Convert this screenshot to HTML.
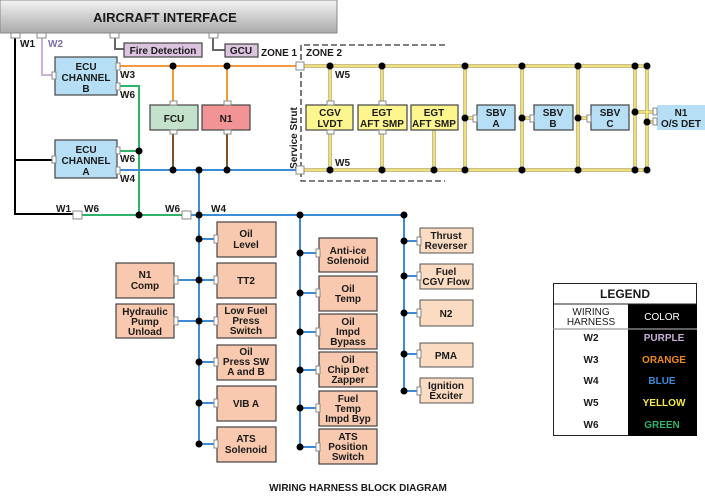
<!DOCTYPE html>
<html><head><meta charset="utf-8"><style>
html,body{margin:0;padding:0;background:#fff;}
svg{display:block;font-family:"Liberation Sans",Arial,sans-serif;font-weight:bold;}
text{font-size:10px;fill:#1a1a1a;}
.bx{stroke:#444;stroke-width:1.2;}
.c{fill:#fff;stroke:#888;stroke-width:1;}
</style></head><body>
<svg width="705" height="496" viewBox="0 0 705 496" xmlns="http://www.w3.org/2000/svg">
<defs><linearGradient id="g" x1="0" y1="0" x2="0" y2="1"><stop offset="0" stop-color="#f4f4f4"/><stop offset="1" stop-color="#a9a9a9"/></linearGradient></defs>
<!-- aircraft interface -->
<rect x="0" y="0" width="337" height="33" fill="url(#g)" stroke="#888"/>
<text x="165" y="22" text-anchor="middle" style="font-size:13px">AIRCRAFT INTERFACE</text>
<!-- W1 black -->
<polyline points="15,35 15,214 75,214" fill="none" stroke="#000" stroke-width="2"/>
<line x1="15" y1="160" x2="53" y2="160" stroke="#000" stroke-width="2"/>
<!-- W2 purple -->
<polyline points="42,35 42,75 53,75" fill="none" stroke="#cbb3d8" stroke-width="2"/>
<!-- fire, gcu -->
<polyline points="115,35 115,49 124,49" fill="none" stroke="#666" stroke-width="2"/>
<polyline points="213,35 213,50 225,50" fill="none" stroke="#666" stroke-width="2"/>
<rect x="124" y="43" width="78" height="14" fill="#dcc3e0" class="bx"/>
<text x="163" y="54" text-anchor="middle">Fire Detection</text>
<rect x="225" y="44" width="33" height="13" fill="#dcc3e0" class="bx"/>
<text x="241" y="54" text-anchor="middle">GCU</text>
<text x="261" y="56">ZONE 1</text>
<text x="306" y="56">ZONE 2</text>
<rect x="11" y="33" width="9" height="5" class="c"/><rect x="37" y="33" width="9" height="5" class="c"/><rect x="110" y="33" width="9" height="5" class="c"/><rect x="209" y="33" width="9" height="5" class="c"/>
<text x="20" y="47">W1</text><text x="48" y="47" style="fill:#7b6fb0">W2</text>
<!-- dashed zone -->
<polyline points="445,45 301,45 301,181 445,181" fill="none" stroke="#333" stroke-width="1.3" stroke-dasharray="6,3"/>
<text transform="translate(297,138) rotate(-90)" text-anchor="middle">Service Strut</text>
<!-- orange -->
<line x1="118" y1="66" x2="300" y2="66" stroke="#f39a3c" stroke-width="2"/>
<line x1="173" y1="66" x2="173" y2="105" stroke="#f39a3c" stroke-width="2"/>
<line x1="227" y1="66" x2="227" y2="105" stroke="#f39a3c" stroke-width="2"/>
<!-- brown -->
<line x1="173" y1="130" x2="173" y2="170" stroke="#7a5230" stroke-width="2"/>
<line x1="227" y1="130" x2="227" y2="170" stroke="#7a5230" stroke-width="2"/>
<!-- green -->
<polyline points="118,86 139,86 139,215" fill="none" stroke="#2fb36a" stroke-width="2"/>
<line x1="118" y1="151" x2="139" y2="151" stroke="#2fb36a" stroke-width="2"/>
<line x1="78" y1="215" x2="190" y2="215" stroke="#2fb36a" stroke-width="2"/>
<!-- blue -->
<g stroke="#3d8ad6" stroke-width="2" fill="none">
<line x1="118" y1="170" x2="300" y2="170"/>
<line x1="199" y1="170" x2="199" y2="444"/>
<line x1="190" y1="215" x2="404" y2="215"/>
<line x1="300" y1="215" x2="300" y2="447"/>
<line x1="404" y1="215" x2="404" y2="391"/>
<line x1="199" y1="239" x2="218" y2="239"/><line x1="176" y1="280" x2="218" y2="280"/><line x1="176" y1="321" x2="218" y2="321"/><line x1="199" y1="362" x2="218" y2="362"/><line x1="199" y1="403" x2="218" y2="403"/><line x1="199" y1="444" x2="218" y2="444"/>
<line x1="300" y1="253" x2="319" y2="253"/><line x1="300" y1="293" x2="319" y2="293"/><line x1="300" y1="332" x2="319" y2="332"/><line x1="300" y1="370" x2="319" y2="370"/><line x1="300" y1="408" x2="319" y2="408"/><line x1="300" y1="447" x2="319" y2="447"/>
<line x1="404" y1="241" x2="420" y2="241"/><line x1="404" y1="276" x2="420" y2="276"/><line x1="404" y1="313" x2="420" y2="313"/><line x1="404" y1="354" x2="420" y2="354"/><line x1="404" y1="391" x2="420" y2="391"/>
</g>
<!-- yellow -->
<g stroke="#b8a968" stroke-width="3.5" fill="none">
<line x1="300" y1="66" x2="650" y2="66"/><line x1="300" y1="170" x2="650" y2="170"/>
<line x1="330" y1="66" x2="330" y2="170"/><line x1="382" y1="66" x2="382" y2="170"/><line x1="434" y1="130" x2="434" y2="170"/>
<line x1="465" y1="66" x2="465" y2="170"/><line x1="522" y1="66" x2="522" y2="170"/><line x1="578" y1="66" x2="578" y2="170"/>
<line x1="635" y1="66" x2="635" y2="170"/><line x1="647" y1="66" x2="647" y2="170"/>
<line x1="465" y1="118" x2="477" y2="118"/><line x1="522" y1="118" x2="534" y2="118"/><line x1="578" y1="118" x2="591" y2="118"/><line x1="635" y1="112" x2="657" y2="112"/><line x1="647" y1="122" x2="657" y2="122"/>
</g>
<g stroke="#fff27a" stroke-width="1.5" fill="none">
<line x1="300" y1="66" x2="650" y2="66"/><line x1="300" y1="170" x2="650" y2="170"/>
<line x1="330" y1="66" x2="330" y2="170"/><line x1="382" y1="66" x2="382" y2="170"/><line x1="434" y1="130" x2="434" y2="170"/>
<line x1="465" y1="66" x2="465" y2="170"/><line x1="522" y1="66" x2="522" y2="170"/><line x1="578" y1="66" x2="578" y2="170"/>
<line x1="635" y1="66" x2="635" y2="170"/><line x1="647" y1="66" x2="647" y2="170"/>
<line x1="465" y1="118" x2="477" y2="118"/><line x1="522" y1="118" x2="534" y2="118"/><line x1="578" y1="118" x2="591" y2="118"/><line x1="635" y1="112" x2="657" y2="112"/><line x1="647" y1="122" x2="657" y2="122"/>
</g>
<text x="335" y="78">W5</text><text x="335" y="166">W5</text>
<!-- ECU boxes -->
<rect x="55" y="57" width="62" height="38" fill="#b6dff5" class="bx"/>
<text x="86" y="70" text-anchor="middle">ECU</text><text x="86" y="81" text-anchor="middle">CHANNEL</text><text x="86" y="92" text-anchor="middle">B</text>
<rect x="55" y="140" width="62" height="38" fill="#b6dff5" class="bx"/>
<text x="86" y="153" text-anchor="middle">ECU</text><text x="86" y="164" text-anchor="middle">CHANNEL</text><text x="86" y="175" text-anchor="middle">A</text>
<rect x="52" y="72" width="4" height="7" class="c"/><rect x="52" y="156" width="4" height="7" class="c"/>
<rect x="116" y="63" width="4" height="7" class="c"/><rect x="116" y="83" width="4" height="7" class="c"/><rect x="116" y="147" width="4" height="7" class="c"/><rect x="116" y="167" width="4" height="7" class="c"/>
<text x="120" y="78">W3</text><text x="120" y="98">W6</text><text x="120" y="162">W6</text><text x="120" y="182">W4</text>
<!-- FCU N1 -->
<rect x="150" y="105" width="48" height="25" fill="#c4e2cb" class="bx"/><text x="174" y="122" text-anchor="middle">FCU</text>
<rect x="202" y="105" width="48" height="25" fill="#f29496" class="bx"/><text x="226" y="122" text-anchor="middle">N1</text>
<rect x="170" y="101" width="7" height="4" class="c"/><rect x="170" y="130" width="7" height="4" class="c"/><rect x="224" y="101" width="7" height="4" class="c"/><rect x="224" y="130" width="7" height="4" class="c"/>
<!-- zone2 boxes -->
<g>
<rect x="306" y="105" width="47" height="25" fill="#fdf58d" class="bx"/><text x="330" y="116" text-anchor="middle">CGV</text><text x="330" y="127" text-anchor="middle">LVDT</text>
<rect x="358" y="105" width="49" height="25" fill="#fdf58d" class="bx"/><text x="382" y="116" text-anchor="middle">EGT</text><text x="382" y="127" text-anchor="middle">AFT SMP</text>
<rect x="411" y="105" width="47" height="25" fill="#fdf58d" class="bx"/><text x="434" y="116" text-anchor="middle">EGT</text><text x="434" y="127" text-anchor="middle">AFT SMP</text>
<rect x="477" y="105" width="38" height="25" fill="#b6dff5" class="bx"/><text x="496" y="116" text-anchor="middle">SBV</text><text x="496" y="127" text-anchor="middle">A</text>
<rect x="534" y="105" width="39" height="25" fill="#b6dff5" class="bx"/><text x="553" y="116" text-anchor="middle">SBV</text><text x="553" y="127" text-anchor="middle">B</text>
<rect x="591" y="105" width="38" height="25" fill="#b6dff5" class="bx"/><text x="610" y="116" text-anchor="middle">SBV</text><text x="610" y="127" text-anchor="middle">C</text>
<rect x="657" y="105" width="48" height="25" fill="#b6dff5"/><text x="681" y="116" text-anchor="middle">N1</text><text x="681" y="127" text-anchor="middle">O/S DET</text>
<rect x="327" y="101" width="7" height="4" class="c"/><rect x="327" y="130" width="7" height="4" class="c"/><rect x="379" y="101" width="7" height="4" class="c"/><rect x="379" y="130" width="7" height="4" class="c"/>
<rect x="473" y="115" width="4" height="7" class="c"/><rect x="530" y="115" width="4" height="7" class="c"/><rect x="587" y="115" width="4" height="7" class="c"/><rect x="653" y="108" width="4" height="7" class="c"/><rect x="653" y="118" width="4" height="7" class="c"/>
</g>
<rect x="296" y="62" width="8" height="8" class="c"/><rect x="296" y="166" width="8" height="8" class="c"/>
<!-- bottom connectors -->
<rect x="73" y="211" width="9" height="8" class="c"/><rect x="182" y="211" width="9" height="8" class="c"/>
<text x="56" y="212">W1</text><text x="84" y="212">W6</text><text x="165" y="212">W6</text><text x="211" y="212">W4</text>
<!-- lower boxes col1 -->
<g fill="#f8c9ae" class="bx">
<rect x="217" y="222" width="59" height="35"/><rect x="217" y="263" width="59" height="35"/><rect x="217" y="304" width="59" height="34"/><rect x="217" y="345" width="59" height="35"/><rect x="217" y="386" width="59" height="35"/><rect x="217" y="427" width="59" height="35"/>
<rect x="116" y="263" width="58" height="35"/><rect x="116" y="304" width="58" height="34"/>
<rect x="319" y="238" width="58" height="34"/><rect x="319" y="276" width="58" height="35"/><rect x="319" y="314" width="58" height="35"/><rect x="319" y="352" width="58" height="35"/><rect x="319" y="391" width="58" height="35"/><rect x="319" y="429" width="58" height="35"/>
</g>
<g fill="#fbdcc3" stroke="#555" stroke-width="1">
<rect x="420" y="228" width="53" height="25"/><rect x="420" y="264" width="53" height="25"/><rect x="420" y="300" width="53" height="26"/><rect x="420" y="343" width="53" height="24"/><rect x="420" y="378" width="53" height="25"/>
</g>
<g class="c">
<rect x="214" y="235" width="4" height="8"/><rect x="214" y="276" width="4" height="8"/><rect x="214" y="317" width="4" height="8"/><rect x="214" y="358" width="4" height="8"/><rect x="214" y="399" width="4" height="8"/><rect x="214" y="440" width="4" height="8"/>
<rect x="174" y="276" width="4" height="8"/><rect x="174" y="317" width="4" height="8"/>
<rect x="316" y="249" width="4" height="8"/><rect x="316" y="289" width="4" height="8"/><rect x="316" y="328" width="4" height="8"/><rect x="316" y="366" width="4" height="8"/><rect x="316" y="404" width="4" height="8"/><rect x="316" y="443" width="4" height="8"/>
<rect x="417" y="237" width="4" height="8"/><rect x="417" y="272" width="4" height="8"/><rect x="417" y="309" width="4" height="8"/><rect x="417" y="350" width="4" height="8"/><rect x="417" y="387" width="4" height="8"/>
</g>
<g text-anchor="middle">
<text x="246" y="237">Oil</text><text x="246" y="248">Level</text>
<text x="246" y="284">TT2</text>
<text x="246" y="314">Low Fuel</text><text x="246" y="324">Press</text><text x="246" y="334">Switch</text>
<text x="246" y="355">Oil</text><text x="246" y="365">Press SW</text><text x="246" y="375">A and B</text>
<text x="246" y="407">VIB A</text>
<text x="246" y="442">ATS</text><text x="246" y="453">Solenoid</text>
<text x="145" y="278">N1</text><text x="145" y="289">Comp</text>
<text x="145" y="315">Hydraulic</text><text x="145" y="325">Pump</text><text x="145" y="335">Unload</text>
<text x="348" y="254">Anti-ice</text><text x="348" y="264">Solenoid</text>
<text x="348" y="292">Oil</text><text x="348" y="302">Temp</text>
<text x="348" y="325">Oil</text><text x="348" y="335">Impd</text><text x="348" y="345">Bypass</text>
<text x="348" y="363">Oil</text><text x="348" y="373">Chip Det</text><text x="348" y="383">Zapper</text>
<text x="348" y="402">Fuel</text><text x="348" y="412">Temp</text><text x="348" y="422">Impd Byp</text>
<text x="348" y="440">ATS</text><text x="348" y="450">Position</text><text x="348" y="460">Switch</text>
<text x="446" y="239">Thrust</text><text x="446" y="249">Reverser</text>
<text x="446" y="275">Fuel</text><text x="446" y="285">CGV Flow</text>
<text x="446" y="317">N2</text>
<text x="446" y="359">PMA</text>
<text x="446" y="389">Ignition</text><text x="446" y="399">Exciter</text>
</g>
<!-- dots -->
<g fill="#000">
<circle cx="173" cy="66" r="3.5"/><circle cx="227" cy="66" r="3.5"/>
<circle cx="173" cy="170" r="3.5"/><circle cx="199" cy="170" r="3.5"/><circle cx="227" cy="170" r="3.5"/>
<circle cx="139" cy="151" r="3.5"/><circle cx="139" cy="215" r="3.5"/>
<circle cx="199" cy="215" r="3.5"/><circle cx="300" cy="215" r="3.5"/><circle cx="404" cy="215" r="3.5"/>
<circle cx="199" cy="239" r="3.5"/><circle cx="199" cy="280" r="3.5"/><circle cx="199" cy="321" r="3.5"/><circle cx="199" cy="362" r="3.5"/><circle cx="199" cy="403" r="3.5"/><circle cx="199" cy="444" r="3.5"/>
<circle cx="300" cy="253" r="3.5"/><circle cx="300" cy="293" r="3.5"/><circle cx="300" cy="332" r="3.5"/><circle cx="300" cy="370" r="3.5"/><circle cx="300" cy="408" r="3.5"/><circle cx="300" cy="447" r="3.5"/>
<circle cx="404" cy="241" r="3.5"/><circle cx="404" cy="276" r="3.5"/><circle cx="404" cy="313" r="3.5"/><circle cx="404" cy="354" r="3.5"/><circle cx="404" cy="391" r="3.5"/>
<circle cx="330" cy="66" r="3.5"/><circle cx="382" cy="66" r="3.5"/><circle cx="465" cy="66" r="3.5"/><circle cx="522" cy="66" r="3.5"/><circle cx="578" cy="66" r="3.5"/><circle cx="635" cy="66" r="3.5"/><circle cx="647" cy="66" r="3.5"/>
<circle cx="330" cy="170" r="3.5"/><circle cx="382" cy="170" r="3.5"/><circle cx="434" cy="170" r="3.5"/><circle cx="465" cy="170" r="3.5"/><circle cx="522" cy="170" r="3.5"/><circle cx="578" cy="170" r="3.5"/><circle cx="635" cy="170" r="3.5"/><circle cx="647" cy="170" r="3.5"/>
<circle cx="465" cy="118" r="3.5"/><circle cx="522" cy="118" r="3.5"/><circle cx="578" cy="118" r="3.5"/><circle cx="635" cy="112" r="3.5"/><circle cx="647" cy="122" r="3.5"/>
</g>
<!-- legend -->
<rect x="553.5" y="283.5" width="143" height="152" fill="#fff" stroke="#222"/>
<rect x="628" y="304" width="69" height="132" fill="#000"/>
<line x1="553" y1="304" x2="697" y2="304" stroke="#222"/>
<line x1="553" y1="329" x2="697" y2="329" stroke="#999" stroke-width="1.2"/>
<text x="625" y="298" text-anchor="middle" style="font-size:12px">LEGEND</text>
<text x="591" y="315" text-anchor="middle" style="font-weight:normal">WIRING</text><text x="591" y="325" text-anchor="middle" style="font-weight:normal">HARNESS</text>
<text x="662" y="320" text-anchor="middle" style="fill:#fff;font-weight:normal">COLOR</text>
<g text-anchor="middle">
<text x="591" y="341">W2</text><text x="591" y="363">W3</text><text x="591" y="384">W4</text><text x="591" y="406">W5</text><text x="591" y="428">W6</text>
<text x="664" y="341" style="fill:#c9b0d6">PURPLE</text><text x="664" y="363" style="fill:#f08a1e">ORANGE</text><text x="662" y="384" style="fill:#3d8ad6">BLUE</text><text x="664" y="406" style="fill:#f4ea4a">YELLOW</text><text x="662" y="428" style="fill:#2fb36a">GREEN</text>
</g>
<text x="358" y="491" text-anchor="middle">WIRING HARNESS BLOCK DIAGRAM</text>
</svg>
</body></html>
